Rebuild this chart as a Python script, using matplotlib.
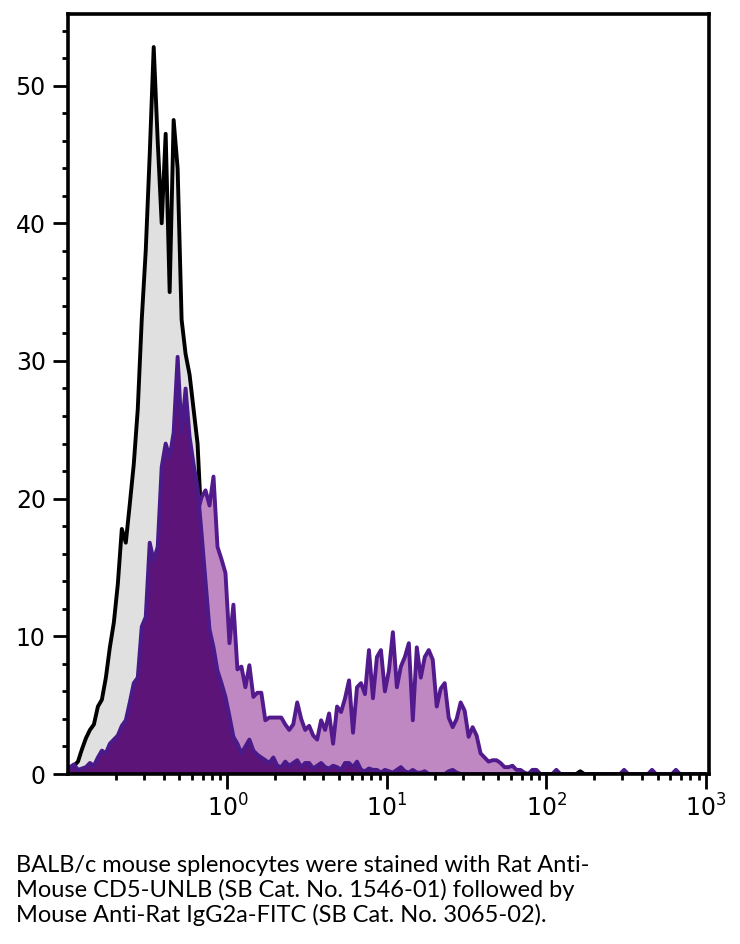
import numpy as np
import matplotlib
matplotlib.use("Agg")
import matplotlib.pyplot as plt
from matplotlib.ticker import FixedLocator, NullFormatter

# ---- data: histogram counts on a log channel grid (40 channels per decade, from 0.1) ----
control_gray = [
    0.3, 0.6, 0.9, 1.8, 2.6, 3.2, 3.6, 4.9, 5.4, 7.0,
    9.2, 11.0, 13.8, 17.8, 16.8, 19.6, 22.5, 26.5, 33.0, 38.0,
    45.0, 52.8, 46.0, 40.0, 46.5, 35.0, 47.5, 44.0, 33.0, 30.5,
    29.0, 26.5, 24.0, 18.0, 14.0, 10.0, 7.0, 4.5, 3.0, 1.8,
    1.0, 0.5, 0.3, 0.1, 0, 0, 0, 0, 0, 0,
    0, 0, 0, 0, 0, 0, 0, 0, 0, 0,
    0, 0, 0, 0, 0, 0, 0, 0, 0, 0,
    0, 0, 0, 0, 0, 0, 0, 0, 0, 0,
    0, 0, 0, 0, 0, 0, 0, 0, 0, 0,
    0, 0, 0, 0, 0, 0, 0, 0, 0, 0,
    0, 0, 0, 0, 0, 0, 0, 0, 0, 0,
    0, 0, 0, 0.2, 0, 0, 0, 0, 0, 0,
    0, 0, 0, 0, 0, 0, 0, 0, 0.2, 0,
    0, 0, 0, 0, 0, 0, 0, 0, 0, 0,
    0, 0, 0, 0, 0, 0, 0, 0, 0, 0,
    0, 0, 0, 0, 0, 0, 0, 0, 0, 0,
]

stained_light = [
    0.2, 0.3, 0.2, 0.2, 0.3, 0.4, 0.3, 0.6, 0.9, 0.8,
    1.2, 1.4, 1.6, 2.0, 2.3, 3.0, 4.0, 4.5, 7.0, 8.0,
    12.0, 12.5, 13.5, 18.0, 20.0, 19.0, 21.0, 25.0, 21.0, 24.0,
    21.0, 20.0, 19.0, 20.1, 20.6, 19.5, 21.6, 16.5, 15.6, 14.6,
    9.5, 12.3, 7.6, 7.8, 6.3, 7.9, 5.6, 5.9, 5.9, 3.9,
    4.1, 4.1, 4.1, 4.1, 3.6, 3.2, 3.6, 5.2, 4.0, 3.2,
    3.5, 2.8, 2.5, 3.9, 3.2, 4.4, 2.2, 4.9, 4.5, 5.5,
    6.8, 3.0, 6.3, 6.6, 5.8, 9.0, 5.5, 8.5, 9.0, 6.0,
    7.5, 10.3, 6.3, 7.8, 8.5, 9.5, 3.9, 9.2, 7.0, 8.5,
    9.0, 8.3, 4.9, 6.2, 6.6, 4.1, 3.4, 4.0, 5.2, 4.6,
    2.7, 3.4, 2.8, 1.5, 1.2, 0.9, 1.0, 1.0, 0.8, 0.5,
    0.5, 0.6, 0.3, 0.3, 0.1, 0, 0, 0, 0, 0,
    0, 0, 0, 0, 0, 0, 0, 0, 0, 0,
    0, 0, 0, 0, 0, 0, 0, 0, 0, 0,
    0, 0, 0, 0, 0, 0, 0, 0, 0, 0,
    0, 0, 0, 0, 0, 0, 0, 0, 0, 0,
]

stained_dark = [
    0.5, 0.7, 0.3, 0.4, 0.5, 0.8, 0.6, 1.2, 1.7, 1.5,
    2.2, 2.5, 2.8, 3.5, 3.9, 5.2, 6.6, 7.0, 10.7, 11.4,
    16.8, 15.5, 16.5, 22.3, 24.0, 23.0, 24.8, 30.3, 24.8, 28.0,
    24.5, 22.5, 20.8, 17.5, 14.0, 10.5, 9.2, 7.5, 6.6, 5.6,
    4.2, 2.7, 2.2, 1.5, 2.0, 2.5, 1.7, 1.4, 1.2, 1.0,
    0.8, 1.2, 0.6, 0.5, 0.9, 0.6, 0.8, 1.0, 0.5, 0.8,
    0.8, 0.4, 0.6, 0.8, 0.5, 0.4, 0.6, 0.5, 0.3, 0.8,
    0.8, 0.5, 0.9, 0.3, 0.2, 0.4, 0.3, 0.3, 0.1, 0.3,
    0.2, 0.1, 0.3, 0.5, 0.2, 0.1, 0.3, 0.1, 0.1, 0.2,
    0, 0, 0, 0, 0, 0.2, 0.3, 0.1, 0, 0,
    0, 0, 0, 0, 0, 0, 0, 0, 0, 0,
    0, 0, 0, 0, 0, 0, 0.3, 0.3, 0, 0,
    0, 0, 0.3, 0, 0, 0, 0, 0, 0, 0,
    0, 0, 0, 0, 0, 0, 0, 0, 0, 0.3,
    0, 0, 0, 0, 0, 0, 0.3, 0, 0, 0,
    0, 0, 0.3, 0, 0, 0, 0, 0, 0, 0,
]

channels_per_decade = 40
x_start_exp = -1
y_major = [0, 10, 20, 30, 40, 50]
x_major = [1, 10, 100, 1000]
x_labels = [r"$10^{0}$", r"$10^{1}$", r"$10^{2}$", r"$10^{3}$"]
caption = ("BALB/c mouse splenocytes were stained with Rat Anti-\n"
           "Mouse CD5-UNLB (SB Cat. No. 1546-01) followed by\n"
           "Mouse Anti-Rat IgG2a-FITC (SB Cat. No. 3065-02).")

n = len(control_gray)
x = 10 ** (x_start_exp + (np.arange(n) + 0.5) / channels_per_decade)

plt.rcParams['mathtext.default'] = 'regular'
fig = plt.figure(figsize=(7.40, 9.44), dpi=100)
ax = fig.add_axes([68/740, 1 - 774/944, (709-68)/740, (774-14)/944])

lw = 2.8
ax.fill_between(x, 0, control_gray, color="#e0e0e0", lw=0, zorder=1)
ax.plot(x, control_gray, color="black", lw=lw, zorder=1.1)
ax.fill_between(x, 0, stained_light, color="#bf88c3", lw=0, zorder=1.2)
ax.plot(x, stained_light, color="#521a8c", lw=lw, zorder=1.3)
ax.fill_between(x, 0, stained_dark, color="#5c1479", lw=0, zorder=1.4)
ax.plot(x, stained_dark, color="#4a1a8a", lw=lw, zorder=1.5)

ax.set_xscale("log")
ax.set_xlim(0.1, 10 ** 3.02)
ax.set_ylim(0, 55.2)

for s in ax.spines.values():
    s.set_linewidth(2.6)
    s.set_zorder(3)

ax.xaxis.set_major_locator(FixedLocator(x_major))
ax.set_xticklabels(x_labels)
minors = [m * 10.0 ** e for e in range(-1, 3) for m in range(2, 10)]
ax.xaxis.set_minor_locator(FixedLocator(minors))
ax.xaxis.set_minor_formatter(NullFormatter())
ax.yaxis.set_major_locator(FixedLocator(y_major))
ax.yaxis.set_minor_locator(FixedLocator(np.arange(0, 56, 2)))

ax.tick_params(which="major", length=11, width=2.0, labelsize=17, direction="out")
ax.tick_params(which="minor", length=4.5, width=2.0, direction="out")
ax.tick_params(axis="y", which="major", pad=5)
ax.tick_params(axis="x", which="major", pad=4)
for lab in ax.get_xticklabels() + ax.get_yticklabels():
    lab.set_fontfamily("DejaVu Sans")

fig.text(16/740, 1 - 855/944, caption, fontsize=17, family=["Lato", "DejaVu Sans"],
         va="top", ha="left", linespacing=1.17)

fig.savefig("out.png", dpi=100)
